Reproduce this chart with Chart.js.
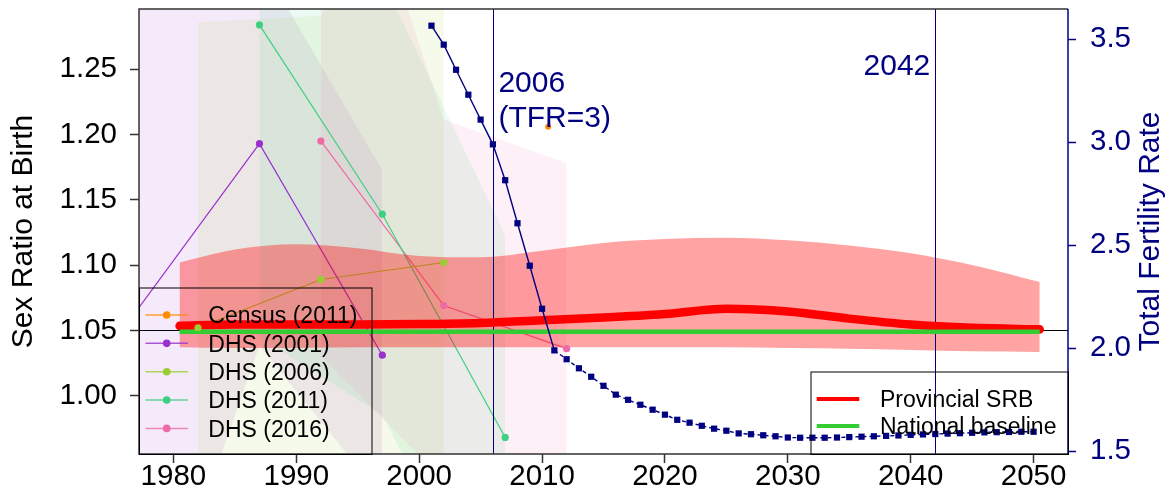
<!DOCTYPE html>
<html>
<head>
<meta charset="utf-8">
<script src="https://cdn.jsdelivr.net/npm/chart.js@4.4.1/dist/chart.umd.min.js"></script>
<style>
  html, body { margin: 0; padding: 0; background: #ffffff; }
  #wrap { width: 1172px; height: 489px; position: relative; }
</style>
</head>
<body>
<div id="wrap"><canvas id="c"></canvas></div>
<script>
// ---------- data ----------
// Provincial sex ratio at birth: median projection and 95% interval
const srbYears  = [1980.5, 1985, 1990, 1995, 2000, 2005, 2010, 2015, 2020, 2025, 2030, 2035, 2040, 2045, 2050.5];
const srbMedian = [1.0535, 1.0545, 1.0545, 1.0545, 1.0548, 1.0557, 1.0578, 1.0598, 1.0625, 1.0665, 1.0645, 1.0590, 1.0545, 1.0520, 1.0508];
const srbUpper  = [1.102, 1.112, 1.116, 1.113, 1.107, 1.106, 1.111, 1.117, 1.120, 1.121, 1.119, 1.115, 1.109, 1.100, 1.087];
const srbLower  = [1.037, 1.0365, 1.0365, 1.037, 1.037, 1.037, 1.037, 1.037, 1.037, 1.037, 1.0365, 1.036, 1.035, 1.034, 1.0335];

// National baseline SRB
const baselineYears  = [1980.5, 2050.5];
const baselineValues = [1.049, 1.049];

// Census observation
const censusYears  = [2010.5];
const censusValues = [1.206];

// DHS observations with their uncertainty bounds
const dhs2001Years  = [1977, 1987, 1997];
const dhs2001Values = [1.065, 1.193, 1.031];
const dhs2001Upper  = [1.450, 1.334, 1.1725];
const dhs2001Lower  = [0.770, 1.0385, 0.922];

const dhs2006Years  = [1982, 1992, 2002];
const dhs2006Values = [1.052, 1.089, 1.102];
const dhs2006Upper  = [1.286, 1.291, 1.450];
const dhs2006Lower  = [0.850, 0.880, 0.900];

const dhs2011Years  = [1987, 1997, 2007];
const dhs2011Values = [1.284, 1.139, 0.968];
const dhs2011Upper  = [1.500, 1.319, 1.1228];
const dhs2011Lower  = [1.045, 0.985, 0.800];

const dhs2016Years  = [1992, 2002, 2012];
const dhs2016Values = [1.195, 1.069, 1.036];
const dhs2016Upper  = [1.500, 1.2115, 1.178];
const dhs2016Lower  = [1.031, 0.935, 0.850];

// Total fertility rate, 2001-2050
const tfrYears = [2001, 2002, 2003, 2004, 2005, 2006, 2007, 2008, 2009, 2010,
                  2011, 2012, 2013, 2014, 2015, 2016, 2017, 2018, 2019, 2020,
                  2021, 2022, 2023, 2024, 2025, 2026, 2027, 2028, 2029, 2030,
                  2031, 2032, 2033, 2034, 2035, 2036, 2037, 2038, 2039, 2040,
                  2041, 2042, 2043, 2044, 2045, 2046, 2047, 2048, 2049, 2050];
const tfrValues = [3.566, 3.474, 3.352, 3.231, 3.110, 2.990, 2.816, 2.607, 2.401, 2.192,
                   1.990, 1.947, 1.903, 1.862, 1.818, 1.775, 1.750, 1.726, 1.702, 1.678,
                   1.653, 1.639, 1.624, 1.610, 1.600, 1.587, 1.583, 1.578, 1.573, 1.567,
                   1.566, 1.566, 1.566, 1.567, 1.569, 1.571, 1.573, 1.575, 1.577, 1.580,
                   1.582, 1.584, 1.586, 1.588, 1.590, 1.592, 1.593, 1.594, 1.595, 1.595];
const tfrDashFrom = 2011;

// Reference marks
const srbReference = 1.05;
const markerYears  = [2006, 2042];
const markerLabels = [['2006', '(TFR=3)'], ['2042']];

// Axes
const xTicks   = [1980, 1990, 2000, 2010, 2020, 2030, 2040, 2050];
const srbTicks = [1.00, 1.05, 1.10, 1.15, 1.20, 1.25];
const tfrTicks = [1.5, 2.0, 2.5, 3.0, 3.5];
const xRange   = [1977.2, 2052.8];
const srbRange = [0.9553, 1.2962];
const tfrRange = [1.487, 3.647];

// ---------- styles ----------
const FONT = '"Liberation Sans", Arial, Helvetica, sans-serif';
const NAVY = '#000080';
const COLORS = {
  census: '#FF8C00',
  dhs2001: '#9932CC',
  dhs2006: '#9ACD32',
  dhs2011: '#3FCF80',
  dhs2016: '#EE6AA7',
  srb: '#FF0000',
  baseline: '#33CC33'
};

const hexA = (hex, a) => {
  const n = parseInt(hex.slice(1), 16);
  return `rgba(${(n >> 16) & 255},${(n >> 8) & 255},${n & 255},${a})`;
};
const zip = (xs, ys) => xs.map((x, i) => ({ x: x, y: ys[i] }));

const surveys = [
  { name: 'DHS (2001)', color: COLORS.dhs2001, years: dhs2001Years, values: dhs2001Values, upper: dhs2001Upper, lower: dhs2001Lower },
  { name: 'DHS (2006)', color: COLORS.dhs2006, years: dhs2006Years, values: dhs2006Values, upper: dhs2006Upper, lower: dhs2006Lower },
  { name: 'DHS (2011)', color: COLORS.dhs2011, years: dhs2011Years, values: dhs2011Values, upper: dhs2011Upper, lower: dhs2011Lower },
  { name: 'DHS (2016)', color: COLORS.dhs2016, years: dhs2016Years, values: dhs2016Values, upper: dhs2016Upper, lower: dhs2016Lower }
];

// ---------- datasets ----------
// draw order: higher "order" is painted first
const datasets = [];

// survey uncertainty regions (filled between upper and lower bounds)
surveys.forEach((s, k) => {
  datasets.push({ label: s.name + ' upper', data: zip(s.years, s.upper), yAxisID: 'y',
    fill: '+1', backgroundColor: hexA(s.color, 0.1), borderColor: 'transparent', borderWidth: 0,
    pointRadius: 0, tension: 0, order: 100 - 2 * k });
  datasets.push({ label: s.name + ' lower', data: zip(s.years, s.lower), yAxisID: 'y',
    fill: false, borderColor: 'transparent', borderWidth: 0, pointRadius: 0, tension: 0, order: 99 - 2 * k });
});

// survey connecting lines (sit under the projection interval)
surveys.forEach(s => {
  datasets.push({ label: s.name + ' line', data: zip(s.years, s.values), yAxisID: 'y',
    borderColor: s.color, borderWidth: 1.2, pointRadius: 0, fill: false, tension: 0, order: 85 });
});

// provincial SRB interval
datasets.push({ label: 'SRB upper', data: zip(srbYears, srbUpper), yAxisID: 'y',
  fill: '+1', backgroundColor: 'rgba(255,0,0,0.36)', borderColor: 'transparent', borderWidth: 0,
  pointRadius: 0, cubicInterpolationMode: 'monotone', order: 80 });
datasets.push({ label: 'SRB lower', data: zip(srbYears, srbLower), yAxisID: 'y',
  fill: false, borderColor: 'transparent', borderWidth: 0, pointRadius: 0,
  cubicInterpolationMode: 'monotone', order: 79 });

// provincial SRB median and national baseline
datasets.push({ label: 'Provincial SRB', data: zip(srbYears, srbMedian), yAxisID: 'y',
  borderColor: COLORS.srb, borderWidth: 8.5, borderCapStyle: 'round', pointRadius: 0, fill: false,
  cubicInterpolationMode: 'monotone', order: 70 });
datasets.push({ label: 'National baseline', data: zip(baselineYears, baselineValues), yAxisID: 'y',
  borderColor: COLORS.baseline, borderWidth: 4.5, pointRadius: 0, fill: false, order: 69 });

// survey points
surveys.forEach(s => {
  datasets.push({ label: s.name, data: zip(s.years, s.values), yAxisID: 'y', showLine: false,
    pointRadius: 3.6, pointBackgroundColor: s.color, pointBorderWidth: 0, order: 60 });
});
datasets.push({ label: 'Census (2011)', data: zip(censusYears, censusValues), yAxisID: 'y', showLine: false,
  pointRadius: 3, pointBackgroundColor: COLORS.census, pointBorderWidth: 0, order: 60 });

// total fertility rate
datasets.push({ label: 'TFR', data: zip(tfrYears, tfrValues), yAxisID: 'y2',
  borderColor: NAVY, borderWidth: 1.4, pointStyle: 'rect', pointRadius: 4.4,
  pointBackgroundColor: NAVY, pointBorderWidth: 0, fill: false, tension: 0, order: 50,
  segment: { borderDash: ctx => (ctx.p0.parsed.x >= tfrDashFrom ? [4, 3] : undefined) } });

// ---------- plugins ----------
const refLines = {
  id: 'refLines',
  beforeDatasetDraw(chart, args) {
    if (chart.data.datasets[args.index].label !== 'Provincial SRB') return;
    const { ctx, chartArea: a, scales } = chart;
    ctx.save();
    ctx.beginPath();
    ctx.rect(a.left, a.top, a.right - a.left, a.bottom - a.top);
    ctx.clip();
    ctx.lineWidth = 1;
    ctx.strokeStyle = '#000000';
    const py = Math.round(scales.y.getPixelForValue(srbReference)) + 0.5;
    ctx.beginPath(); ctx.moveTo(a.left, py); ctx.lineTo(a.right, py); ctx.stroke();
    ctx.strokeStyle = NAVY;
    markerYears.forEach(yr => {
      const px = Math.round(scales.x.getPixelForValue(yr)) + 0.5;
      ctx.beginPath(); ctx.moveTo(px, a.top); ctx.lineTo(px, a.bottom); ctx.stroke();
    });
    ctx.restore();
  }
};

const decorations = {
  id: 'decorations',
  afterDraw(chart) {
    const { ctx, chartArea: a, scales } = chart;
    ctx.save();

    // plot frame
    ctx.lineWidth = 1.5;
    ctx.strokeStyle = '#333333';
    ctx.beginPath();
    ctx.moveTo(a.right, a.top); ctx.lineTo(a.left, a.top); ctx.lineTo(a.left, a.bottom); ctx.lineTo(a.right, a.bottom);
    ctx.stroke();
    ctx.strokeStyle = NAVY;
    ctx.beginPath(); ctx.moveTo(a.right, a.top); ctx.lineTo(a.right, a.bottom); ctx.stroke();

    // axis titles
    ctx.font = '30px ' + FONT;
    ctx.textAlign = 'center';
    ctx.textBaseline = 'alphabetic';
    const midY = (a.top + a.bottom) / 2;
    ctx.fillStyle = '#000000';
    ctx.save(); ctx.translate(31.5, midY); ctx.rotate(-Math.PI / 2); ctx.fillText('Sex Ratio at Birth', 0, 0); ctx.restore();
    ctx.fillStyle = NAVY;
    ctx.save(); ctx.translate(1158.5, midY); ctx.rotate(-Math.PI / 2); ctx.fillText('Total Fertility Rate', 0, 0); ctx.restore();

    // marker year labels
    ctx.fillStyle = NAVY;
    ctx.font = '30px ' + FONT;
    const x0 = scales.x.getPixelForValue(markerYears[0]);
    ctx.textAlign = 'left';
    ctx.fillText(markerLabels[0][0], x0 + 5.5, 91.7);
    ctx.fillText(markerLabels[0][1], x0 + 5.5, 127);
    const x1 = scales.x.getPixelForValue(markerYears[1]);
    ctx.textAlign = 'right';
    ctx.fillText(markerLabels[1][0], x1 - 5, 75);

    // left legend (observations)
    const legL = { left: a.left, top: 287.5, right: 371.5, bottom: a.bottom };
    ctx.lineWidth = 1;
    ctx.strokeStyle = '#000000';
    ctx.strokeRect(legL.left + 0.5, legL.top + 0.5, legL.right - legL.left, legL.bottom - legL.top);
    const obsItems = [{ name: 'Census (2011)', color: COLORS.census }].concat(surveys);
    ctx.font = '23px ' + FONT;
    ctx.textAlign = 'left';
    ctx.textBaseline = 'alphabetic';
    obsItems.forEach((it, i) => {
      const base = 323.3 + i * 28.35;
      const ym = base - 8.3;
      ctx.strokeStyle = hexA(it.color, 0.8);
      ctx.lineWidth = 1.5;
      ctx.beginPath(); ctx.moveTo(145.5, ym); ctx.lineTo(188, ym); ctx.stroke();
      ctx.fillStyle = it.color;
      ctx.beginPath(); ctx.arc(166.7, ym, 3.8, 0, Math.PI * 2); ctx.fill();
      ctx.fillStyle = '#000000';
      ctx.fillText(it.name, 208.3, base);
    });

    // right legend (projection lines)
    const legR = { left: 810.5, top: 371.5, right: a.right, bottom: a.bottom };
    ctx.lineWidth = 1;
    ctx.strokeStyle = '#000000';
    ctx.strokeRect(legR.left + 0.5, legR.top + 0.5, legR.right - legR.left, legR.bottom - legR.top);
    const lineItems = [{ name: 'Provincial SRB', color: COLORS.srb }, { name: 'National baseline', color: COLORS.baseline }];
    lineItems.forEach((it, i) => {
      const base = 407.3 + i * 27;
      const ym = base - 8.3;
      ctx.strokeStyle = it.color;
      ctx.lineWidth = 4;
      ctx.beginPath(); ctx.moveTo(816.7, ym); ctx.lineTo(859.3, ym); ctx.stroke();
      ctx.fillStyle = '#000000';
      ctx.fillText(it.name, 880, base);
    });

    ctx.restore();
  }
};

// ---------- chart ----------
const fixTicks = values => scale => { scale.ticks = values.map(v => ({ value: v })); };
const fitVertical = w => s => { s.width = w; s.paddingTop = 0; s.paddingBottom = 0; };
const fitHorizontal = h => s => { s.height = h; s.paddingLeft = 0; s.paddingRight = 0; };

new Chart(document.getElementById('c'), {
  type: 'line',
  data: { datasets: datasets },
  options: {
    responsive: true,
    maintainAspectRatio: false,
    animation: false,
    devicePixelRatio: 1,
    layout: { padding: { top: 9, left: 0, right: 0, bottom: 0 } },
    plugins: { legend: { display: false }, tooltip: { enabled: false } },
    events: [],
    scales: {
      x: {
        type: 'linear', position: 'bottom', min: xRange[0], max: xRange[1],
        afterBuildTicks: fixTicks(xTicks),
        afterFit: fitHorizontal(35),
        grid: { drawOnChartArea: false, drawTicks: true, tickLength: 9, tickWidth: 1.5, tickColor: '#333333' },
        border: { display: false },
        ticks: { font: { family: FONT, size: 29.5 }, color: '#000000', padding: -4, maxRotation: 0, autoSkip: false,
                 callback: v => String(v) }
      },
      y: {
        type: 'linear', position: 'left', min: srbRange[0], max: srbRange[1],
        afterBuildTicks: fixTicks(srbTicks),
        afterFit: fitVertical(139),
        grid: { drawOnChartArea: false, drawTicks: true, tickLength: 9, tickWidth: 1.5, tickColor: '#333333' },
        border: { display: false },
        ticks: { font: { family: FONT, size: 29.5 }, color: '#000000', padding: 13, autoSkip: false,
                 callback: v => v.toFixed(2) }
      },
      y2: {
        type: 'linear', position: 'right', min: tfrRange[0], max: tfrRange[1],
        afterBuildTicks: fixTicks(tfrTicks),
        afterFit: fitVertical(104),
        grid: { drawOnChartArea: false, drawTicks: true, tickLength: 8, tickWidth: 1.5, tickColor: NAVY },
        border: { display: false },
        ticks: { font: { family: FONT, size: 29.5 }, color: NAVY, padding: 14, autoSkip: false,
                 callback: v => v.toFixed(1) }
      }
    }
  },
  plugins: [refLines, decorations]
});
</script>
</body>
</html>
